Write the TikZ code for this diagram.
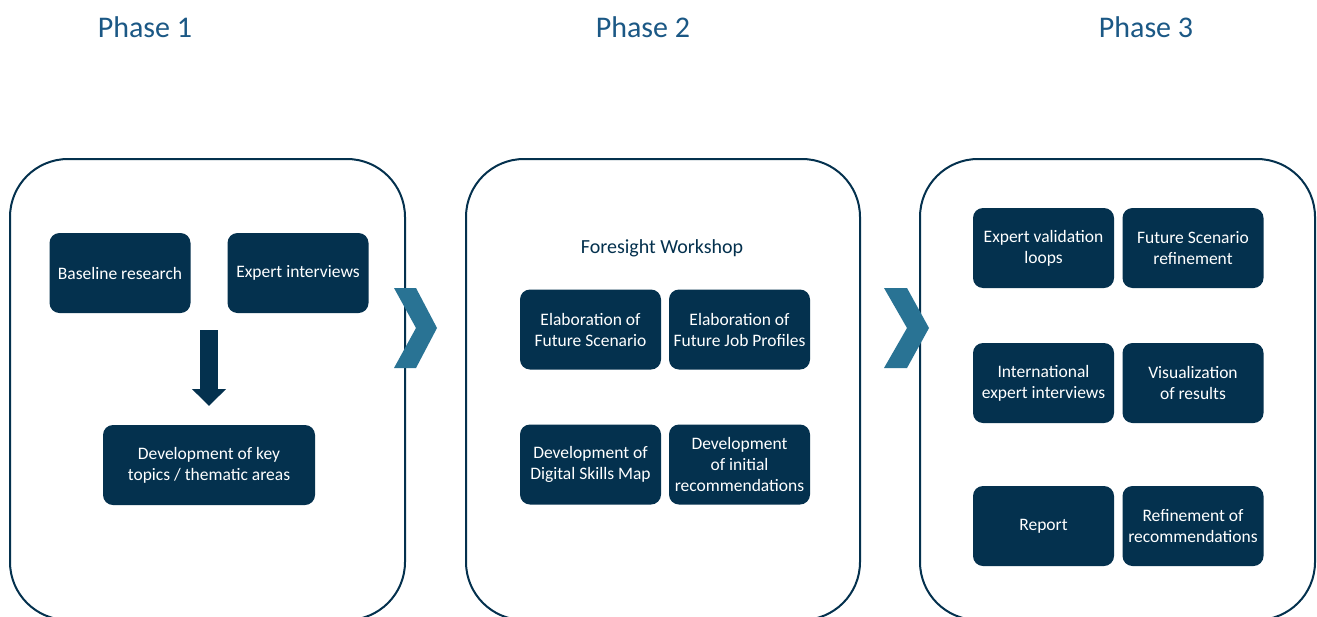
\documentclass[tikz,border=0pt]{standalone}
\usepackage{fontspec}
\setmainfont{Carlito}
\usetikzlibrary{arrows.meta}
\definecolor{navy}{RGB}{4,49,78}
\definecolor{chev}{RGB}{41,115,148}
\definecolor{phasecol}{RGB}{27,88,133}
\tikzset{
  phasebox/.style={draw=navy, line width=2pt, rounded corners=58pt},
  taskbox/.style={fill=navy, rounded corners=10pt, text=white, align=center,
    minimum width=141pt, minimum height=80pt, inner sep=0pt,
    font=\fontsize{17.5}{21}\selectfont},
  phaselabel/.style={text=phasecol, font=\fontsize{30}{34}\selectfont, inner sep=0pt},
  chevron/.style={fill=chev, draw=none},
  blockarrow/.style={draw=navy, line width=18pt, line cap=butt,
    -{Triangle[width=33pt,length=17pt]}}
}
\begin{document}
\begin{tikzpicture}[x=1pt,y=-1pt]
\useasboundingbox (0,0) rectangle (1317,616);
\clip (0,0) rectangle (1317,616);
\fill[white] (0,0) rectangle (1317,616);
% phase labels
\node[phaselabel] (ph1) at (145,27) {Phase 1};
\node[phaselabel] (ph2) at (643,27) {Phase 2};
\node[phaselabel] (ph3) at (1146,27) {Phase 3};
% phase containers
\draw[phasebox] (10,159) rectangle (405,620);
\draw[phasebox] (466,159) rectangle (860,620);
\draw[phasebox] (920,159) rectangle (1315,620);
% chevrons
\fill[chevron] (394,288) -- (416,288) -- (437,328) -- (416,368) -- (394,368) -- (416,328) -- cycle;
\fill[chevron] (884,288) -- (907,288) -- (929,328) -- (907,368) -- (884,368) -- (907,328) -- cycle;
% phase 1
\node[taskbox] (base) at (120,273) {Baseline research};
\node[taskbox] (expert) at (298,273) {Expert interviews};
\node[taskbox, minimum width=212pt] (keytopics) at (209,465) {Development of key\\topics / thematic areas};
\coordinate (arrs) at (209,330);
\coordinate (arre) at (209,406);
\draw[blockarrow] (arrs) -- (arre);
% phase 2
\node[text=navy, font=\fontsize{20}{24}\selectfont, inner sep=0pt] (fw) at (662,248) {Foresight Workshop};
\node[taskbox] (elabfs) at (590.5,329.5) {Elaboration of\\Future Scenario};
\node[taskbox] (elabjp) at (739.5,329.5) {Elaboration of\\Future Job Profiles};
\node[taskbox] (devdsm) at (590.5,464.5) {Development of\\Digital Skills Map};
\node[taskbox] (devrec) at (739.5,464.5) {Development\\of initial\\recommendations};
% phase 3
\node[taskbox] (evl) at (1043.5,248) {Expert validation\\loops};
\node[taskbox] (fsr) at (1193,248) {Future Scenario\\refinement};
\node[taskbox] (iei) at (1043.5,383) {International\\expert interviews};
\node[taskbox] (vis) at (1193,383) {Visualization\\of results};
\node[taskbox] (rep) at (1043.5,526) {Report};
\node[taskbox] (ror) at (1193,526) {Refinement of\\recommendations};
\end{tikzpicture}
\end{document}
